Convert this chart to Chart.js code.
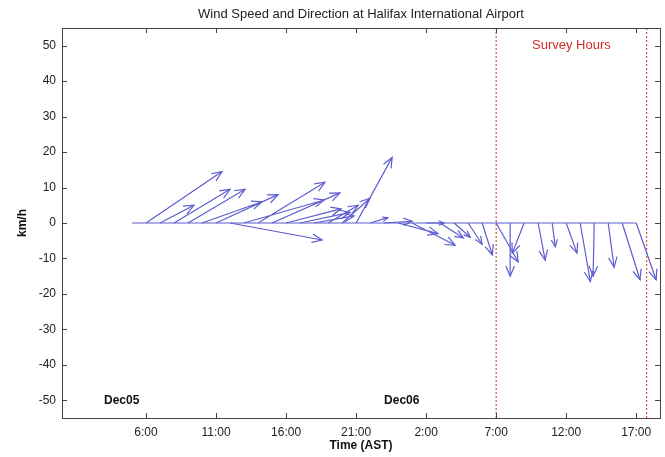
<!DOCTYPE html>
<html>
<head>
<meta charset="utf-8">
<script src="https://cdn.jsdelivr.net/npm/chart.js@4.4.0/dist/chart.umd.min.js"></script>
<style>
  html, body { margin: 0; padding: 0; background: #fff; }
</style>
</head>
<body>
<canvas id="graph-canvas" width="665" height="457"></canvas>
<script>
// hours since Dec05 00:00 AST
const hours = [5, 6, 7, 8, 9, 10, 11, 12, 13, 14, 15, 16, 17, 18, 19, 20, 21, 22, 23,
               24, 25, 26, 27, 28, 29, 30, 31, 32, 33, 34, 35, 36, 37, 38, 39, 40, 41];
// east (u) and north (v) wind components, km/h
const windU = [0, 21.7, 9.7, 16, 16.3, 17.1, 17.7, 26.3, 22.9, 19.1, 19.4, 15.7, 14.3, 11.4, 8.6, 8, 10.3, 5.1, 8,
               11.4, 12.3, 5.1, 6.6, 4.6, 4, 2.9, 6.3, 0, -3.4, 2, 0.9, 3.1, 2.9, -0.3, 1.7, 5.1, 5.7];
const windV = [0, 14.5, 5, 9.5, 9.5, 6, 8, -4.8, 6.5, 11.5, 8.5, 4, 3, 2, 5, 7, 18.5, 1.5, 0.5,
               -3, -6.3, 0, -4.2, -4, -6, -9, -11, -15, -8.5, -10.5, -6.7, -8.5, -16.5, -15, -12.5, -16, -16];
const xTicks = [6, 11, 16, 21, 26, 31, 36, 41];
const yTicks = [-50, -40, -30, -20, -10, 0, 10, 20, 30, 40, 50];
const surveyHours = [31, 41.75];
const dayLabels = ['Dec05', 'Dec06'];
const dayLabelHours = [3, 23];
const uScale = 0.25; // x-axis hours per km/h of u

const arrowColor = '#5d5dcf';
const fontFam = 'Arial, "Liberation Sans", sans-serif';

// arrow shafts, broken by null points
let shafts = [];
for (let i in hours) {
  shafts.push({x: hours[i], y: 0});
  shafts.push({x: hours[i] + windU[i] * uScale, y: windV[i]});
  shafts.push({x: hours[i], y: null});
}
let baseline = [{x: hours[0], y: 0}, {x: hours[hours.length - 1], y: 0}];

let datasets = [
  {data: baseline, borderColor: arrowColor, borderWidth: 1.2, pointRadius: 0},
  {data: shafts, borderColor: arrowColor, borderWidth: 1.2, pointRadius: 0, spanGaps: false}
];
for (let s of surveyHours) {
  datasets.push({
    data: [{x: s, y: -55}, {x: s, y: 55}],
    borderColor: '#d42a2a', borderWidth: 1, borderDash: [2, 2], pointRadius: 0
  });
}

const extras = {
  id: 'extras',
  beforeDraw(chart) {
    const ctx = chart.ctx;
    ctx.save();
    ctx.fillStyle = '#fff';
    ctx.fillRect(0, 0, chart.width, chart.height);
    ctx.restore();
  },
  afterDatasetsDraw(chart) {
    const ctx = chart.ctx;
    const xs = chart.scales.x, ys = chart.scales.y;
    const a = chart.chartArea;
    ctx.save();
    // arrow heads
    ctx.strokeStyle = arrowColor;
    ctx.lineWidth = 1.2;
    for (let i in hours) {
      let x0 = xs.getPixelForValue(hours[i]), y0 = ys.getPixelForValue(0);
      let x1 = xs.getPixelForValue(hours[i] + windU[i] * uScale), y1 = ys.getPixelForValue(windV[i]);
      let len = Math.hypot(x1 - x0, y1 - y0);
      if (len < 1) continue;
      let ang = Math.atan2(y1 - y0, x1 - x0);
      let h = Math.min(11, len * 0.33);
      ctx.beginPath();
      ctx.moveTo(x1 - h * Math.cos(ang - 0.4), y1 - h * Math.sin(ang - 0.4));
      ctx.lineTo(x1, y1);
      ctx.lineTo(x1 - h * Math.cos(ang + 0.4), y1 - h * Math.sin(ang + 0.4));
      ctx.stroke();
    }
    // box and inward ticks
    ctx.strokeStyle = '#444';
    ctx.lineWidth = 1;
    ctx.strokeRect(a.left + 0.5, a.top + 0.5, a.right - a.left, a.bottom - a.top);
    ctx.beginPath();
    for (let t of xTicks) {
      let px = Math.round(xs.getPixelForValue(t)) + 0.5;
      ctx.moveTo(px, a.bottom); ctx.lineTo(px, a.bottom - 5);
      ctx.moveTo(px, a.top); ctx.lineTo(px, a.top + 5);
    }
    for (let t of yTicks) {
      let py = Math.round(ys.getPixelForValue(t)) + 0.5;
      ctx.moveTo(a.left, py); ctx.lineTo(a.left + 5, py);
      ctx.moveTo(a.right, py); ctx.lineTo(a.right - 5, py);
    }
    ctx.stroke();
    // texts
    ctx.textBaseline = 'middle';
    ctx.fillStyle = '#d42a2a';
    ctx.textAlign = 'center';
    ctx.font = '13px ' + fontFam;
    ctx.fillText('Survey Hours', (xs.getPixelForValue(surveyHours[0]) + xs.getPixelForValue(surveyHours[1])) / 2,
                 ys.getPixelForValue(50));
    ctx.fillStyle = '#111';
    ctx.font = 'bold 12px ' + fontFam;
    ctx.textAlign = 'left';
    for (let i in dayLabels) {
      ctx.fillText(dayLabels[i], xs.getPixelForValue(dayLabelHours[i]), ys.getPixelForValue(-50));
    }
    ctx.font = '13px ' + fontFam;
    ctx.textAlign = 'center';
    ctx.fillStyle = '#222';
    ctx.fillText('Wind Speed and Direction at Halifax International Airport', (a.left + a.right) / 2, 14);
    ctx.restore();
  }
};

let graphTarget = document.getElementById('graph-canvas');
let windChart = new Chart(graphTarget, {
  type: 'line',
  data: {datasets: datasets},
  options: {
    responsive: false,
    animation: false,
    devicePixelRatio: 1,
    layout: {padding: {top: 28, right: 5, left: 0, bottom: 0}},
    plugins: {legend: {display: false}, tooltip: {enabled: false}},
    elements: {line: {tension: 0}},
    scales: {
      x: {
        type: 'linear', min: 0, max: 42.7,
        afterBuildTicks: (scale) => { scale.ticks = xTicks.map(v => ({value: v})); },
        afterFit: (scale) => { scale.height = 39; },
        grid: {display: false, drawTicks: false},
        border: {display: false},
        ticks: {
          padding: 7, color: '#222', font: {size: 12, family: fontFam},
          autoSkip: false, maxRotation: 0,
          callback: (v) => (v % 24) + ':00'
        },
        title: {display: true, text: 'Time (AST)', color: '#111',
                font: {size: 12, weight: 'bold', family: fontFam}, padding: {top: 0, bottom: 4}}
      },
      y: {
        type: 'linear', min: -55, max: 55,
        afterBuildTicks: (scale) => { scale.ticks = yTicks.map(v => ({value: v})); },
        afterFit: (scale) => { scale.width = 62; },
        grid: {display: false, drawTicks: false},
        border: {display: false},
        ticks: {padding: 6, color: '#222', font: {size: 12, family: fontFam}},
        title: {display: true, text: 'km/h', color: '#111',
                font: {size: 12, weight: 'bold', family: fontFam}, padding: {top: 15, bottom: 0}}
      }
    }
  },
  plugins: [extras]
});
</script>
</body>
</html>
